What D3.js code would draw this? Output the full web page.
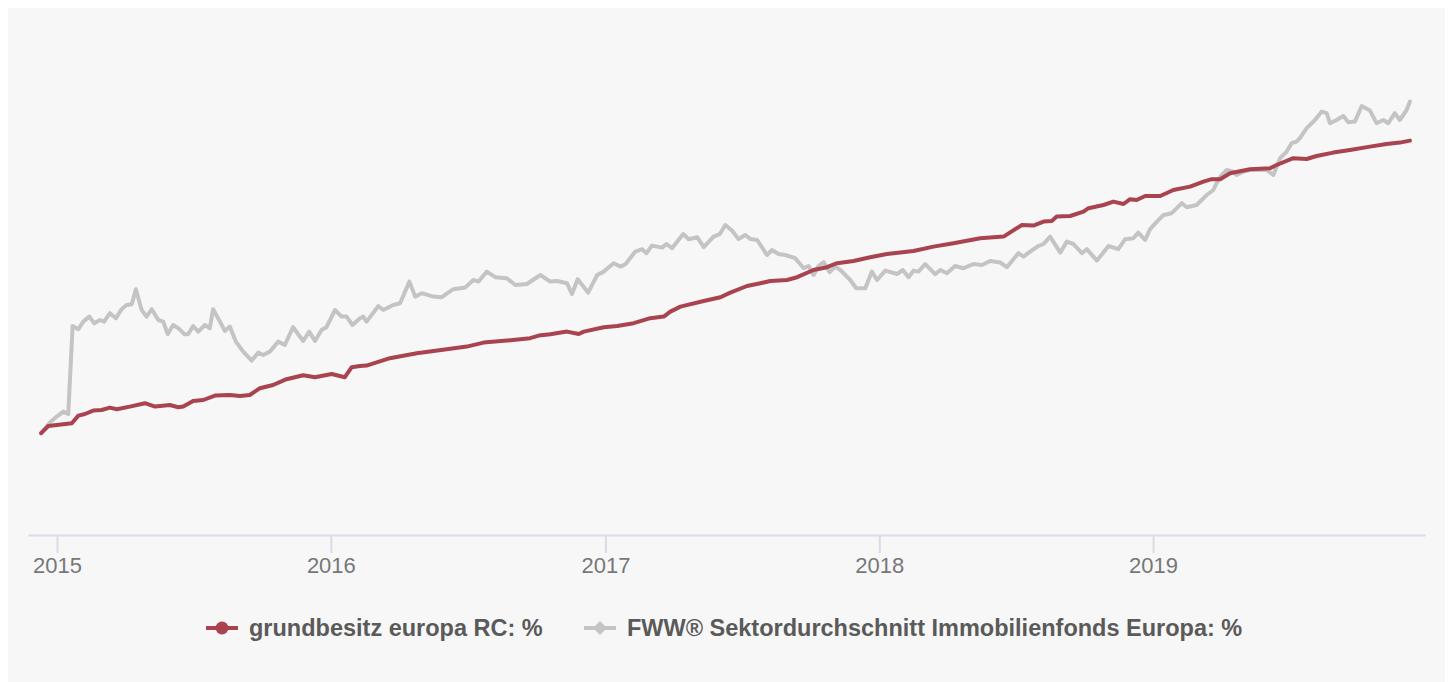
<!DOCTYPE html>
<html>
<head>
<meta charset="utf-8">
<script src="https://cdn.jsdelivr.net/npm/d3@7"></script>
<style>
  html, body { margin: 0; padding: 0; background: #fff; }
  svg { display: block; font-family: "Liberation Sans", Arial, Helvetica, sans-serif; }
</style>
</head>
<body>
<svg width="1452" height="682"></svg>
<script>
// time as decimal years, values in % (cumulative performance)
var fundYears = [2014.942, 2014.968, 2015.054, 2015.078, 2015.102, 2015.132, 2015.163, 2015.193, 2015.218, 2015.266,
  2015.321, 2015.358, 2015.412, 2015.443, 2015.461, 2015.497, 2015.534, 2015.577, 2015.631, 2015.668,
  2015.704, 2015.741, 2015.789, 2015.838, 2015.899, 2015.942, 2016.003, 2016.051, 2016.076, 2016.106,
  2016.130, 2016.215, 2016.313, 2016.422, 2016.495, 2016.556, 2016.641, 2016.726, 2016.757, 2016.799,
  2016.860, 2016.903, 2016.921, 2016.994, 2017.043, 2017.103, 2017.164, 2017.213, 2017.237, 2017.274,
  2017.359, 2017.420, 2017.456, 2017.517, 2017.566, 2017.602, 2017.663, 2017.700, 2017.760, 2017.809,
  2017.846, 2017.906, 2017.967, 2018.028, 2018.125, 2018.198, 2018.271, 2018.369, 2018.454, 2018.521,
  2018.563, 2018.600, 2018.630, 2018.648, 2018.697, 2018.746, 2018.764, 2018.819, 2018.855, 2018.892,
  2018.916, 2018.940, 2018.971, 2019.026, 2019.074, 2019.135, 2019.184, 2019.214, 2019.245, 2019.281,
  2019.354, 2019.427, 2019.451, 2019.512, 2019.561, 2019.597, 2019.658, 2019.719, 2019.792, 2019.853,
  2019.901, 2019.938];
var fundValues = [0.09, 0.45, 0.59, 0.97, 1.05, 1.22, 1.25, 1.37, 1.29, 1.42,
  1.59, 1.42, 1.50, 1.39, 1.42, 1.70, 1.75, 1.97, 2.00, 1.95,
  2.00, 2.34, 2.50, 2.79, 2.99, 2.89, 3.05, 2.89, 3.39, 3.45,
  3.47, 3.84, 4.09, 4.29, 4.42, 4.62, 4.72, 4.84, 4.97, 5.04,
  5.17, 5.05, 5.17, 5.39, 5.45, 5.59, 5.84, 5.92, 6.17, 6.42,
  6.70, 6.89, 7.12, 7.45, 7.59, 7.70, 7.75, 7.89, 8.25, 8.39,
  8.59, 8.70, 8.89, 9.05, 9.20, 9.42, 9.59, 9.84, 9.92, 10.50,
  10.47, 10.67, 10.70, 10.92, 10.95, 11.17, 11.34, 11.50, 11.67, 11.55,
  11.79, 11.75, 11.95, 11.95, 12.25, 12.42, 12.67, 12.79, 12.79, 13.09,
  13.29, 13.34, 13.50, 13.84, 13.80, 13.95, 14.12, 14.25, 14.42, 14.55,
  14.62, 14.72];

var sectorYears = [2014.942, 2014.974, 2014.999, 2015.023, 2015.041, 2015.057, 2015.078, 2015.096, 2015.118, 2015.136,
  2015.157, 2015.172, 2015.193, 2015.215, 2015.236, 2015.254, 2015.273, 2015.288, 2015.309, 2015.327,
  2015.346, 2015.370, 2015.388, 2015.404, 2015.424, 2015.443, 2015.465, 2015.479, 2015.497, 2015.516,
  2015.540, 2015.558, 2015.570, 2015.595, 2015.613, 2015.631, 2015.653, 2015.680, 2015.711, 2015.735,
  2015.753, 2015.777, 2015.808, 2015.832, 2015.862, 2015.899, 2015.921, 2015.942, 2015.966, 2015.984,
  2016.015, 2016.039, 2016.057, 2016.079, 2016.106, 2016.118, 2016.130, 2016.173, 2016.191, 2016.227,
  2016.252, 2016.286, 2016.307, 2016.331, 2016.373, 2016.404, 2016.446, 2016.489, 2016.519, 2016.538,
  2016.568, 2016.599, 2016.641, 2016.672, 2016.714, 2016.763, 2016.799, 2016.824, 2016.860, 2016.878,
  2016.899, 2016.937, 2016.970, 2016.994, 2017.030, 2017.055, 2017.073, 2017.109, 2017.134, 2017.150,
  2017.170, 2017.207, 2017.223, 2017.243, 2017.284, 2017.304, 2017.335, 2017.359, 2017.395, 2017.417,
  2017.438, 2017.462, 2017.486, 2017.511, 2017.529, 2017.554, 2017.590, 2017.608, 2017.632, 2017.657,
  2017.693, 2017.724, 2017.742, 2017.760, 2017.778, 2017.797, 2017.819, 2017.839, 2017.858, 2017.894,
  2017.916, 2017.949, 2017.973, 2017.992, 2018.022, 2018.065, 2018.086, 2018.107, 2018.125, 2018.143,
  2018.168, 2018.204, 2018.223, 2018.247, 2018.277, 2018.308, 2018.344, 2018.375, 2018.405, 2018.442,
  2018.466, 2018.508, 2018.527, 2018.551, 2018.581, 2018.600, 2018.624, 2018.661, 2018.685, 2018.709,
  2018.740, 2018.758, 2018.795, 2018.837, 2018.873, 2018.898, 2018.928, 2018.946, 2018.971, 2018.989,
  2019.014, 2019.038, 2019.068, 2019.105, 2019.123, 2019.159, 2019.196, 2019.220, 2019.232, 2019.245,
  2019.269, 2019.293, 2019.305, 2019.330, 2019.354, 2019.378, 2019.415, 2019.439, 2019.464, 2019.488,
  2019.506, 2019.524, 2019.536, 2019.561, 2019.591, 2019.616, 2019.634, 2019.646, 2019.670, 2019.695,
  2019.713, 2019.737, 2019.762, 2019.792, 2019.816, 2019.841, 2019.859, 2019.883, 2019.901, 2019.926,
  2019.938];
var sectorValues = [0.09, 0.62, 0.92, 1.17, 1.05, 5.45, 5.29, 5.67, 5.92, 5.59,
  5.75, 5.67, 6.09, 5.84, 6.29, 6.50, 6.54, 7.29, 6.25, 5.92,
  6.29, 5.75, 5.67, 5.04, 5.50, 5.34, 5.04, 5.04, 5.45, 5.17,
  5.50, 5.34, 6.29, 5.67, 5.20, 5.42, 4.67, 4.17, 3.72, 4.12,
  4.00, 4.17, 4.67, 4.50, 5.39, 4.70, 5.17, 4.70, 5.25, 5.39,
  6.25, 5.92, 5.92, 5.50, 5.84, 5.92, 5.67, 6.45, 6.25, 6.50,
  6.59, 7.67, 6.92, 7.09, 6.92, 6.89, 7.29, 7.37, 7.75, 7.67,
  8.17, 7.89, 7.84, 7.50, 7.55, 8.00, 7.67, 7.70, 7.59, 7.05,
  7.79, 7.12, 8.00, 8.17, 8.59, 8.42, 8.54, 9.17, 9.29, 9.09,
  9.47, 9.37, 9.55, 9.34, 10.05, 9.79, 9.89, 9.39, 9.92, 10.04,
  10.50, 10.22, 9.80, 10.00, 9.80, 9.75, 9.00, 9.25, 9.05, 9.00,
  8.84, 8.34, 8.45, 8.00, 8.45, 8.64, 8.14, 8.42, 8.25, 7.75,
  7.34, 7.34, 8.17, 7.75, 8.22, 8.05, 8.25, 7.89, 8.22, 8.17,
  8.54, 8.04, 8.25, 8.09, 8.45, 8.34, 8.55, 8.50, 8.70, 8.62,
  8.39, 9.09, 8.92, 9.17, 9.45, 9.55, 9.92, 9.12, 9.67, 9.55,
  9.09, 9.29, 8.72, 9.45, 9.29, 9.79, 9.84, 10.12, 9.75, 10.29,
  10.67, 11.00, 11.09, 11.59, 11.39, 11.50, 12.00, 12.25, 12.59, 12.92,
  13.25, 13.17, 13.00, 13.17, 13.25, 13.25, 13.25, 13.00, 13.84, 14.17,
  14.59, 14.67, 14.84, 15.34, 15.75, 16.17, 16.09, 15.59, 15.75, 15.95,
  15.64, 15.67, 16.45, 16.22, 15.59, 15.75, 15.59, 16.09, 15.75, 16.25,
  16.67];

var tickYears = [2015, 2016, 2017, 2018, 2019];
var seriesNames = ["grundbesitz europa RC: %", "FWW® Sektordurchschnitt Immobilienfonds Europa: %"];
var seriesColors = ["#a8434f", "#c4c4c4"];

function toDate(t) {
  var y = Math.floor(t);
  var s = new Date(y, 0, 1), e = new Date(y + 1, 0, 1);
  return new Date(+s + (t - y) * (e - s));
}

var svg = d3.select("svg"),
    width = +svg.attr("width"),
    height = +svg.attr("height");

svg.append("rect")
    .attr("x", 8).attr("y", 8)
    .attr("width", 1437).attr("height", height)
    .attr("fill", "#f7f7f7");

var x = d3.scaleTime()
    .domain([toDate(2014.894), toDate(2019.993)])
    .range([28, 1425]);

var y = d3.scaleLinear()
    .domain([-5, 20])
    .range([535, 35]);

var fund = fundYears.map(function(t, i) { return { date: toDate(t), value: fundValues[i] }; });
var sector = sectorYears.map(function(t, i) { return { date: toDate(t), value: sectorValues[i] }; });

var line = d3.line()
    .x(function(d) { return x(d.date); })
    .y(function(d) { return y(d.value); });

// x axis
var axis = svg.append("g")
    .attr("transform", "translate(0,535)")
    .call(d3.axisBottom(x)
      .tickValues(tickYears.map(function(yr) { return new Date(yr, 0, 1); }))
      .tickFormat(d3.timeFormat("%Y"))
      .tickSize(18)
      .tickSizeOuter(0)
      .tickPadding(4));

axis.select(".domain").attr("stroke", "#d9dce8").attr("stroke-width", 2);
axis.selectAll(".tick line").attr("stroke", "#d9dce8").attr("stroke-width", 2);
axis.selectAll(".tick text")
    .attr("fill", "#777")
    .style("font-size", "22px")
    .style("font-family", "'Liberation Sans', Arial, sans-serif");

// lines
svg.append("path")
    .datum(sector)
    .attr("fill", "none")
    .attr("stroke", seriesColors[1])
    .attr("stroke-width", 4)
    .attr("stroke-linejoin", "round")
    .attr("stroke-linecap", "round")
    .attr("d", line);

svg.append("path")
    .datum(fund)
    .attr("fill", "none")
    .attr("stroke", seriesColors[0])
    .attr("stroke-width", 4)
    .attr("stroke-linejoin", "round")
    .attr("stroke-linecap", "round")
    .attr("d", line);

// legend
var legend = svg.append("g").attr("transform", "translate(0,628)");
var legendX = [206, 584];

seriesNames.forEach(function(name, i) {
  var g = legend.append("g").attr("transform", "translate(" + legendX[i] + ",0)");
  g.append("line")
      .attr("x1", 0).attr("x2", 32)
      .attr("y1", 0).attr("y2", 0)
      .attr("stroke", seriesColors[i])
      .attr("stroke-width", 4);
  if (i === 0) {
    g.append("circle").attr("cx", 16).attr("cy", 0).attr("r", 6.5).attr("fill", seriesColors[i]);
  } else {
    g.append("path").attr("d", "M16,-7L23,0L16,7L9,0Z").attr("fill", seriesColors[i]);
  }
  g.append("text")
      .attr("x", 43)
      .attr("y", 8)
      .attr("fill", "#5a5a5a")
      .style("font-size", "23.5px")
      .style("font-weight", "bold")
      .text(name);
});
</script>
</body>
</html>
